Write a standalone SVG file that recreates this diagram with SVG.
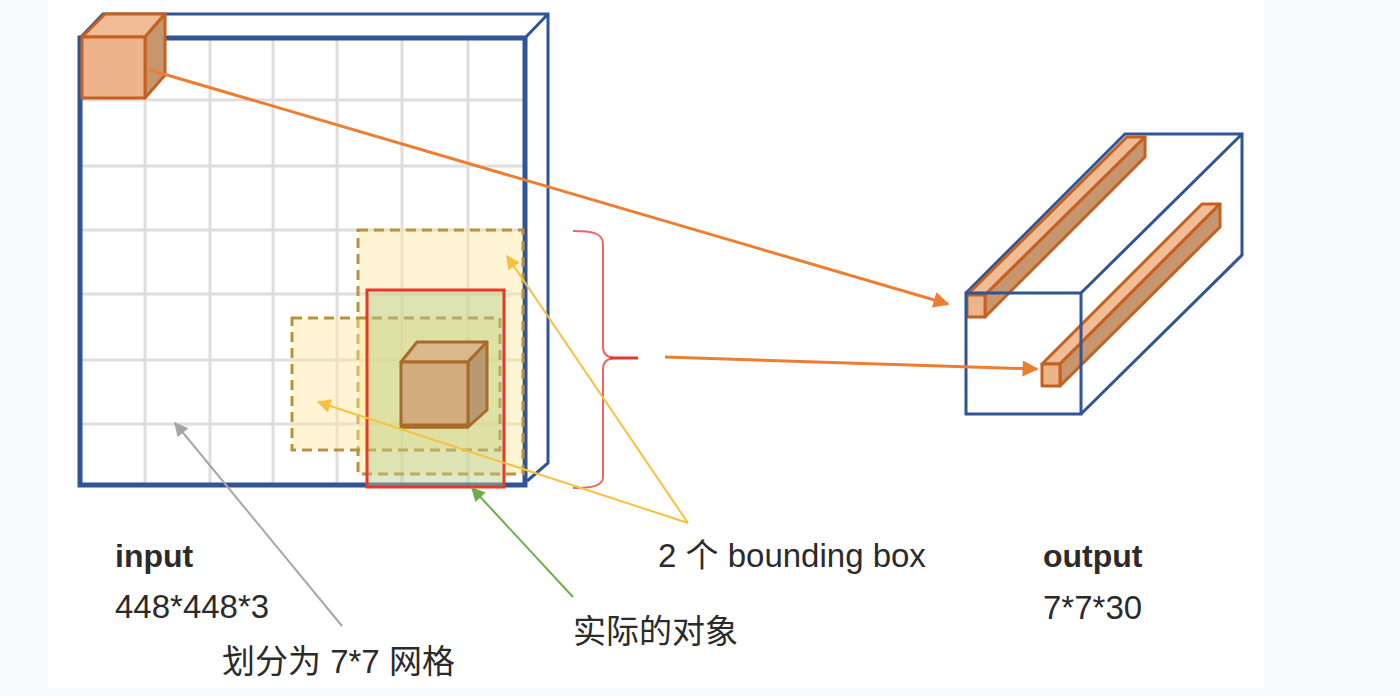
<svg xmlns="http://www.w3.org/2000/svg" width="1400" height="696" viewBox="0 0 1400 696">
  <defs>
    <style>
      .grid { stroke: #DEDEDE; stroke-width: 3; }
      .blue { fill: none; stroke: #2F5597; stroke-linejoin: miter; }
      .dash { stroke: #B8923E; stroke-width: 3; stroke-dasharray: 10 6; fill: #FFE699; fill-opacity: 0.42; }
      .ocube { stroke: #C5601E; stroke-width: 3; stroke-linejoin: round; }
      .tcube { stroke: #A86B2B; stroke-width: 3; stroke-linejoin: round; }
      .txt { font-family: "Liberation Sans", "Noto Sans CJK SC", sans-serif; font-size: 33px; fill: #2B2B2B; }
      .bold { font-weight: bold; font-size: 32px; }
    </style>
    <marker id="ahO" viewBox="0 0 10 10" refX="9" refY="5" markerUnits="userSpaceOnUse" markerWidth="20" markerHeight="16" orient="auto">
      <path d="M0,0 L10,5 L0,10 z" fill="#ED7D31"/>
    </marker>
    <marker id="ahY" viewBox="0 0 10 10" refX="9" refY="5" markerUnits="userSpaceOnUse" markerWidth="17" markerHeight="14" orient="auto">
      <path d="M0,0 L10,5 L0,10 z" fill="#F8C040"/>
    </marker>
    <marker id="ahG" viewBox="0 0 10 10" refX="9" refY="5" markerUnits="userSpaceOnUse" markerWidth="17" markerHeight="14" orient="auto">
      <path d="M0,0 L10,5 L0,10 z" fill="#A6A6A6"/>
    </marker>
    <marker id="ahGr" viewBox="0 0 10 10" refX="9" refY="5" markerUnits="userSpaceOnUse" markerWidth="17" markerHeight="14" orient="auto">
      <path d="M0,0 L10,5 L0,10 z" fill="#70AD47"/>
    </marker>
  </defs>

  <rect x="0" y="0" width="1400" height="696" fill="#F9FAFE"/>
  <rect x="48" y="0" width="1216" height="688" fill="#FFFFFF"/>

  <g id="input-block">
    <g id="grid">
      <line class="grid" x1="145" y1="38" x2="145" y2="485"/>
      <line class="grid" x1="210" y1="38" x2="210" y2="485"/>
      <line class="grid" x1="273" y1="38" x2="273" y2="485"/>
      <line class="grid" x1="337" y1="38" x2="337" y2="485"/>
      <line class="grid" x1="402" y1="38" x2="402" y2="485"/>
      <line class="grid" x1="468" y1="38" x2="468" y2="485"/>
      <line class="grid" x1="80" y1="100" x2="525" y2="100"/>
      <line class="grid" x1="80" y1="166" x2="525" y2="166"/>
      <line class="grid" x1="80" y1="230" x2="525" y2="230"/>
      <line class="grid" x1="80" y1="294" x2="525" y2="294"/>
      <line class="grid" x1="80" y1="360" x2="525" y2="360"/>
      <line class="grid" x1="80" y1="424" x2="525" y2="424"/>
    </g>
    <path class="blue" stroke-width="3" d="M80,38 L103,14 L548,14 L548,463 L527,481 M525,38 L548,14"/>
    <rect class="blue" stroke-width="5" x="80" y="38" width="445" height="447"/>
  </g>

  <g id="bbox-a">
    <rect class="dash" x="358" y="230" width="165" height="244"/>
  </g>
  <g id="bbox-b">
    <rect class="dash" x="292" y="318" width="208" height="132"/>
  </g>
  <g id="object-box">
    <rect x="367" y="290" width="137" height="197" fill="#B5CF8A" fill-opacity="0.45" stroke="#E8382A" stroke-width="3"/>
  </g>
  <g id="object-cube">
    <polygon class="tcube" points="401,362 417,342 487,342 468,362" fill="#D9B98A"/>
    <polygon class="tcube" points="468,362 487,342 487,410 468,427" fill="#B79A6F"/>
    <rect class="tcube" x="401" y="362" width="67" height="65" fill="#D2AC7C"/>
    <line x1="401" y1="426" x2="468" y2="426" stroke="#A86B2B" stroke-width="5"/>
  </g>

  <g id="cell-cube">
    <polygon class="ocube" points="82,37 105,14 165,14 145,37" fill="#EFBC95"/>
    <polygon class="ocube" points="145,37 165,14 165,75 145,98" fill="#C8966E"/>
    <rect class="ocube" x="82" y="37" width="63" height="61" fill="#EDB38A"/>
  </g>

  <g id="brace">
    <path d="M573,231 C592,231 603,233 603,244 L603,347 Q603,357 614,358 M614,358 Q603,359 603,369 L603,477 C603,486 592,488 573,488" fill="none" stroke="#F06464" stroke-width="2"/>
    <line x1="610" y1="358" x2="638" y2="358" stroke="#E8382A" stroke-width="3"/>
  </g>

  <g id="output-block">
    <path class="blue" stroke-width="3" d="M966,293 L1125,134 L1242,134 L1242,255 L1081,414 M1081,293 L1242,134"/>
    <g id="bar-top">
      <polygon class="ocube" points="967,295 985,295 1145,137 1127,137" fill="#EFBC95"/>
      <polygon class="ocube" points="985,295 1145,137 1145,157 985,317" fill="#C8966E"/>
      <rect class="ocube" x="967" y="295" width="18" height="22" fill="#EDB38A"/>
    </g>
    <g id="bar-mid">
      <polygon class="ocube" points="1042,364 1060,364 1220,204 1202,204" fill="#EFBC95"/>
      <polygon class="ocube" points="1060,364 1220,204 1220,227 1060,386" fill="#C8966E"/>
      <rect class="ocube" x="1042" y="364" width="18" height="22" fill="#EDB38A"/>
    </g>
    <rect class="blue" stroke-width="3" x="966" y="293" width="115" height="121"/>
  </g>

  <g id="connectors">
    <line x1="150" y1="70" x2="948" y2="304" stroke="#ED7D31" stroke-width="3" marker-end="url(#ahO)"/>
    <line x1="665" y1="357" x2="1037" y2="369" stroke="#ED7D31" stroke-width="3" marker-end="url(#ahO)"/>
    <line x1="688" y1="523" x2="507" y2="256" stroke="#F8C040" stroke-width="2" marker-end="url(#ahY)"/>
    <line x1="688" y1="523" x2="318" y2="402" stroke="#F8C040" stroke-width="2" marker-end="url(#ahY)"/>
    <line x1="342" y1="626" x2="175" y2="423" stroke="#A6A6A6" stroke-width="2" marker-end="url(#ahG)"/>
    <line x1="573" y1="597" x2="472" y2="488" stroke="#70AD47" stroke-width="2" marker-end="url(#ahGr)"/>
  </g>

  <g id="labels">
    <text class="txt bold" x="115" y="567">input</text>
    <text class="txt" x="115" y="618">448*448*3</text>
    <text class="txt" x="222" y="673">划分为 7*7 网格</text>
    <text class="txt" x="573" y="643">实际的对象</text>
    <text class="txt" x="658" y="567">2 个 bounding box</text>
    <text class="txt bold" x="1043" y="567">output</text>
    <text class="txt" x="1043" y="619">7*7*30</text>
  </g>
</svg>
